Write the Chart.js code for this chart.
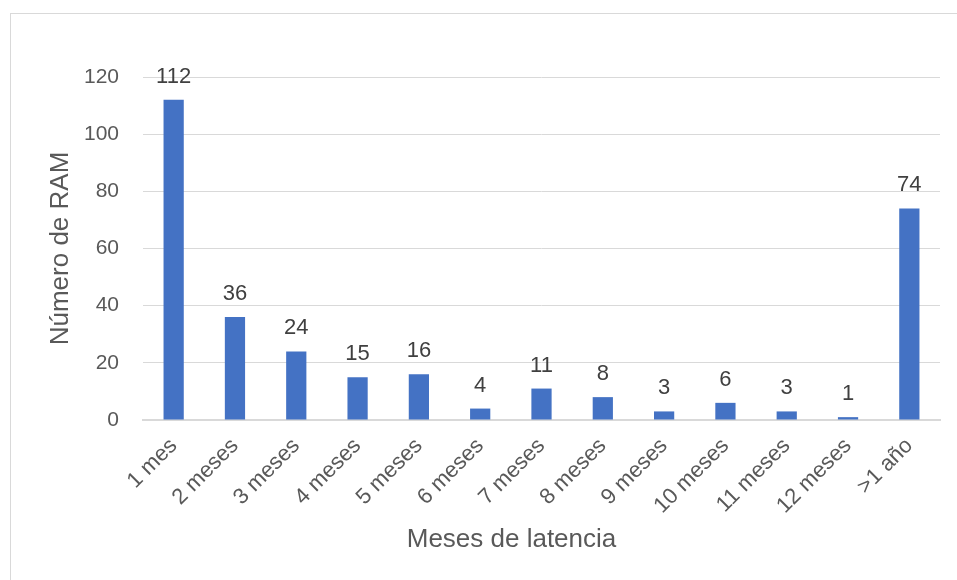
<!doctype html>
<html lang="es">
<head>
    <meta charset="UTF-8">
    <title>Meses de latencia</title>
    <script src="https://cdn.jsdelivr.net/npm/chart.js"></script>
    <style>
        body {
            margin: 0;
            background: #fff;
            font-family: "Liberation Sans", Arial, sans-serif;
        }
        #frame {
            position: absolute;
            left: 10px;
            top: 13px;
            width: 1000px;
            height: 700px;
            border-left: 1px solid #d9d9d9;
            border-top: 1px solid #d9d9d9;
        }
        #wrap {
            position: absolute;
            left: 0;
            top: 0;
            width: 957px;
            height: 580px;
        }
    </style>
</head>
<body>
<div id="frame"></div>
<div id="wrap"><canvas id="myChart"></canvas></div>

<script>
    const categorias = ['1 mes', '2 meses', '3 meses', '4 meses', '5 meses', '6 meses', '7 meses',
        '8 meses', '9 meses', '10 meses', '11 meses', '12 meses', '>1 año'];
    const numeroRam = [112, 36, 24, 15, 16, 4, 11, 8, 3, 6, 3, 1, 74];
    const ticksY = [0, 20, 40, 60, 80, 100, 120];
    const tituloX = 'Meses de latencia';

    const fuente = '"Liberation Sans", Arial, sans-serif';

    // etiquetas de datos encima de cada barra + título del eje X (centrado como en Excel)
    const etiquetas = {
        id: 'etiquetas',
        afterDatasetsDraw(chart) {
            const ctx = chart.ctx;
            const meta = chart.getDatasetMeta(0);
            ctx.save();
            ctx.font = '22px ' + fuente;
            ctx.fillStyle = '#404040';
            ctx.textAlign = 'center';
            ctx.textBaseline = 'alphabetic';
            meta.data.forEach((bar, i) => {
                ctx.fillText(String(numeroRam[i]), bar.x, bar.y - 17);
            });

            ctx.font = '26px ' + fuente;
            ctx.fillStyle = '#595959';
            ctx.textBaseline = 'middle';
            ctx.fillText(tituloX, chart.width / 2 + 33, 540);
            ctx.restore();
        }
    };

    const ctx = document.getElementById('myChart').getContext('2d');
    new Chart(ctx, {
        type: 'bar',
        data: {
            labels: categorias,
            datasets: [{
                data: numeroRam,
                backgroundColor: '#4472c4',
                borderWidth: 0,
                categoryPercentage: 1,
                barPercentage: 0.33
            }]
        },
        options: {
            responsive: true,
            maintainAspectRatio: false,
            animation: false,
            layout: {
                padding: { left: 45, right: 17, top: 77, bottom: 24 }
            },
            plugins: {
                legend: { display: false },
                tooltip: { enabled: false }
            },
            scales: {
                x: {
                    grid: { display: false, drawTicks: false },
                    border: { color: '#d9d9d9', width: 2 },
                    ticks: {
                        color: '#595959',
                        font: { family: fuente, size: 22 },
                        minRotation: 45,
                        maxRotation: 45,
                        padding: 13
                    },
                    afterFit(scale) { scale.height = 136; }
                },
                y: {
                    min: 0,
                    max: 120,
                    afterBuildTicks(scale) {
                        scale.ticks = ticksY.map(v => ({ value: v }));
                    },
                    grid: { color: '#d9d9d9', lineWidth: 1, drawTicks: false },
                    border: { display: false },
                    ticks: {
                        color: '#595959',
                        font: { family: fuente, size: 21 },
                        padding: 24
                    },
                    title: {
                        display: true,
                        text: 'Número de RAM',
                        color: '#595959',
                        font: { family: fuente, size: 26 },
                        padding: 0
                    },
                    afterFit(scale) { scale.width = 98; }
                }
            }
        },
        plugins: [etiquetas]
    });
</script>
</body>
</html>
